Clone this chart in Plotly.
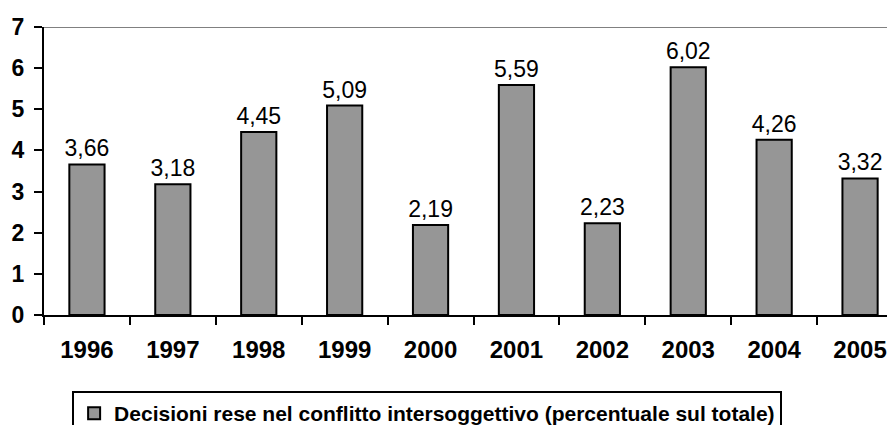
import plotly.graph_objects as go

# values
anni = ["1996", "1997", "1998", "1999", "2000", "2001", "2002", "2003", "2004", "2005"]
percentuali = [3.66, 3.18, 4.45, 5.09, 2.19, 5.59, 2.23, 6.02, 4.26, 3.32]
y_ticks = [0, 1, 2, 3, 4, 5, 6, 7]
nome_serie = "Decisioni rese nel conflitto intersoggettivo (percentuale sul totale)"

font_fam = "Arial, Liberation Sans, sans-serif"

fig = go.Figure()
fig.add_trace(go.Bar(
    x=anni,
    y=percentuali,
    name=nome_serie,
    marker=dict(color="#969696", line=dict(color="black", width=2)),
    width=0.41,
    texttemplate="%{y:.2f}",
    textposition="outside",
    constraintext="none",
    cliponaxis=False,
    textfont=dict(family=font_fam, size=23, color="black"),
    showlegend=True,
))

# grey line closing the plot area at the top
fig.add_shape(type="line", xref="paper", yref="y", x0=0, x1=1, y0=7, y1=7,
              line=dict(color="#808080", width=2))
# x axis line runs a little past the y axis, like the 0 tick
fig.add_shape(type="line", xref="paper", yref="y", x0=-0.0095, x1=0, y0=0, y1=0,
              line=dict(color="black", width=2))

fig.update_layout(
    width=895, height=425,
    margin=dict(l=36, r=0, t=19, b=118, autoexpand=False),
    paper_bgcolor="white", plot_bgcolor="white",
    separators=",.",
    font=dict(family=font_fam, color="black"),
    bargap=0.59,
    showlegend=True,
    legend=dict(
        orientation="h",
        x=0.446, xanchor="center",
        y=-0.264, yanchor="top",
        bordercolor="black", borderwidth=2,
        font=dict(family=font_fam, size=21, color="black", weight="bold"),
        itemwidth=30,
    ),
    xaxis=dict(
        type="category",
        automargin=False,
        showline=True, linecolor="black", linewidth=2,
        ticks="outside", tickson="boundaries", ticklen=8, tickwidth=2, tickcolor="black",
        tickfont=dict(size=24, weight="bold"),
        ticklabelstandoff=12,
        showgrid=False,
    ),
    yaxis=dict(
        range=[0, 7],
        automargin=False,
        tickvals=y_ticks,
        showline=True, linecolor="black", linewidth=2,
        ticks="outside", ticklen=8, tickwidth=2, tickcolor="black",
        tickfont=dict(size=23, weight="bold"),
        ticklabelstandoff=5,
        showgrid=False, zeroline=False,
    ),
)

fig.write_html("out.html")
